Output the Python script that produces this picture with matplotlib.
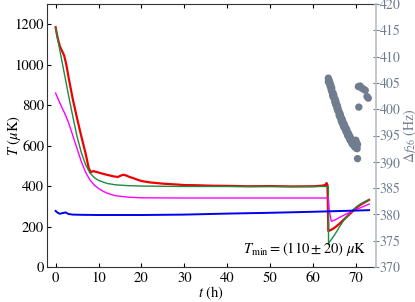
import matplotlib
matplotlib.use("Agg")
import matplotlib.pyplot as plt

plt.rcParams['font.family'] = ['STIXGeneral', 'DejaVu Serif']
plt.rcParams['mathtext.fontset'] = 'stix'
plt.rcParams['font.size'] = 10.5

# ---- data ----
t_red = [0, 0.5, 1.0, 1.5, 2.0, 2.5, 3, 4, 5, 6, 7, 7.7, 8.2, 8.7, 9.5, 10.5, 11.5,
         12.5, 13.5, 14.5, 15.2, 15.8, 16.5, 17.2, 18, 19, 20, 22, 25, 28, 30, 33, 36,
         40, 45, 50, 55, 60, 62, 62.8, 63.1, 63.3, 63.5, 64.0, 64.5, 65, 66, 67, 68,
         69, 70, 71, 72, 73]
T_red = [1185, 1130, 1090, 1068, 1045, 1000, 940, 830, 735, 645, 560, 490, 468, 474,
         470, 464, 458, 453, 448, 445, 452, 456, 452, 445, 440, 432, 425, 418, 412, 408,
         405, 404, 402, 401, 399, 400, 398, 399, 402, 405, 415, 405, 178, 182, 188, 195,
         212, 232, 252, 272, 292, 308, 320, 332]

t_green = [0, 1, 2, 3, 4, 5, 6, 7, 8, 9, 10, 12, 14, 17, 20, 30, 63.5, 63.55, 64, 65,
           66, 67, 68, 69, 70, 71, 72, 73]
T_green = [1180, 1070, 960, 850, 745, 645, 565, 505, 465, 442, 428, 413, 406, 402, 400,
           398, 398, 117, 130, 160, 195, 228, 255, 278, 297, 312, 323, 332]

t_mag = [0, 1, 2, 3, 4, 5, 6, 7, 8, 9, 10, 11, 12, 14, 17, 20, 30, 63.5, 63.7, 64.2,
         65, 66, 67, 68, 69, 70, 71, 72, 73]
T_mag = [860, 810, 765, 715, 650, 585, 520, 468, 430, 405, 388, 375, 365, 352, 345, 342,
         341, 341, 280, 226, 232, 244, 255, 265, 274, 284, 293, 302, 311]

t_blue = [0, 0.5, 1, 1.5, 2, 2.3, 3, 4, 6, 10, 20, 30, 40, 50, 60, 65, 70, 73]
T_blue = [277, 268, 263, 266, 268, 270, 262, 259, 258, 257, 257, 259, 264, 268, 273,
          276, 279, 281]

# Delta f_26 measurements (t in h, f in Hz)
scat_t = [63.5, 63.5, 63.7, 63.8, 63.9, 64.0, 64.1, 64.2, 64.3, 64.4,
          64.5, 64.6, 64.7, 64.8, 65.0, 65.1, 65.2, 65.3, 65.5, 65.6,
          65.7, 65.8, 66.0, 66.1, 66.2, 66.3, 66.5, 66.6, 66.7, 66.8,
          67.0, 67.1, 67.2, 67.3, 67.5, 67.6, 67.7, 67.8, 68.0, 68.1,
          68.2, 68.3, 68.5, 68.6, 68.7, 68.8, 69.0, 69.1, 69.2, 69.3,
          69.5, 69.6, 69.7, 69.8, 70.0, 70.1, 70.2, 70.1, 69.9, 70.3,
          70.5, 70.9, 71.3, 71.7, 72.1, 72.5, 72.8, 70.6, 70.3]
scat_f = [405.9, 405.2, 405.5, 404.7, 405.0, 404.2, 404.5, 403.6, 404.0, 403.2,
          402.6, 403.1, 402.2, 402.6, 401.4, 401.9, 400.9, 401.4, 400.2, 400.7,
          399.7, 400.1, 398.9, 399.4, 398.5, 399.0, 397.8, 398.3, 397.4, 397.9,
          396.8, 397.3, 396.5, 396.9, 396.0, 396.4, 395.6, 396.1, 395.0, 395.5,
          394.8, 395.2, 394.2, 394.7, 394.0, 394.4, 393.5, 394.0, 393.3, 393.8,
          393.0, 393.4, 392.8, 393.3, 392.6, 393.0, 392.5, 393.6, 394.1, 393.3,
          404.3, 404.4, 404.0, 403.8, 403.6, 402.4, 402.1, 400.4, 390.6]

x_ticks = [0, 10, 20, 30, 40, 50, 60, 70]
yl_ticks = [0, 200, 400, 600, 800, 1000, 1200]
yr_ticks = [370, 375, 380, 385, 390, 395, 400, 405, 410, 415, 420]

gray = '#6f7d8f'

fig = plt.figure(figsize=(4.15, 3.02), dpi=100)
ax = fig.add_axes([47/415, 1-267/302, (376-47)/415, (267-4)/302])
ax2 = ax.twinx()

ax.plot(t_red, T_red, color='#ee0000', lw=1.6, zorder=2)
ax.plot(t_green, T_green, color='#1f8a3c', lw=1.0, zorder=3)
ax.plot(t_mag, T_mag, color='#ff00ff', lw=1.0, zorder=3)
ax.plot(t_blue, T_blue, color='#0000ee', lw=1.4, zorder=3)

ax2.scatter(scat_t, scat_f, s=28, color=gray, edgecolors='none')

ax.set_xlim(-2, 74.6)
ax.set_ylim(0, 1300)
ax2.set_ylim(370, 420)
ax.set_xticks(x_ticks)
ax.set_yticks(yl_ticks)
ax2.set_yticks(yr_ticks)

ax.tick_params(axis='x', direction='in', top=True, length=3, width=0.8, pad=3)
ax.tick_params(axis='y', direction='in', right=False, length=3, width=0.8, pad=2)
ax2.tick_params(axis='y', direction='inout', length=4, width=0.8, colors=gray,
                pad=0.5, labelsize=10)

for s in ['left', 'bottom', 'top']:
    ax.spines[s].set_color('#333333')
ax.spines['right'].set_visible(False)
ax2.spines['right'].set_color('#b8bec6')
ax2.spines['right'].set_linewidth(1.2)
for s in ['left', 'bottom', 'top']:
    ax2.spines[s].set_visible(False)

ax.set_xlabel(r'$t$ (h)', labelpad=0)
ax.set_ylabel(r'$T$ ($\mu$K)')
ax2.set_ylabel(r'$\Delta f_{26}$ (Hz)', color=gray, fontsize=10)
ax.yaxis.set_label_coords((23 - 47) / 329, 0.5)
ax2.yaxis.set_label_coords((401 - 47) / 329, 0.5)

ax.text(0.97, 0.035, r'$T_{\rm min} = (110 \pm 20)\ \mu\mathrm{K}$',
        transform=ax.transAxes, ha='right', va='bottom', zorder=5)

fig.savefig('out.png', dpi=100)
